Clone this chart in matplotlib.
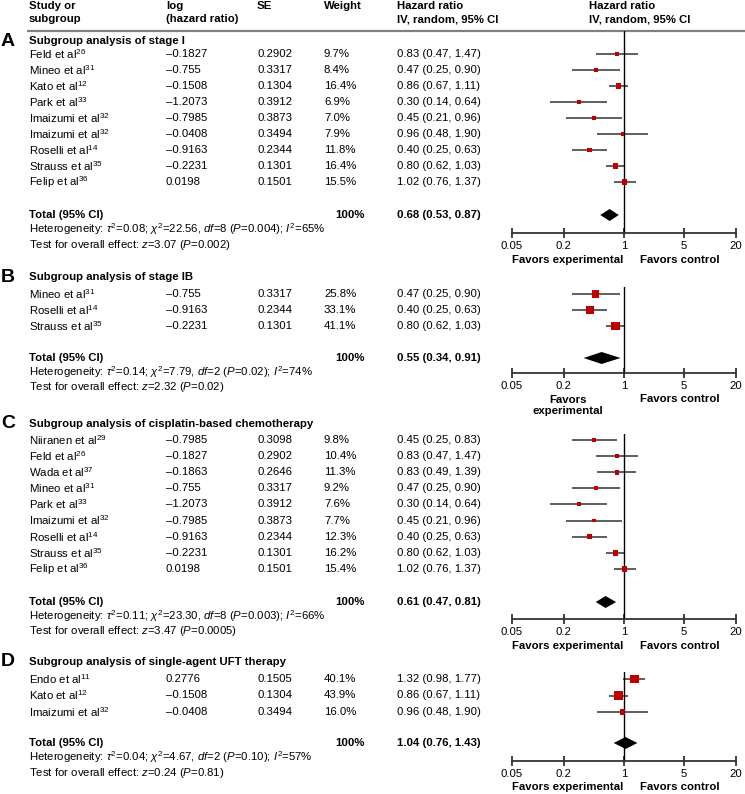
import numpy as np
import matplotlib
matplotlib.use('Agg')
import matplotlib.pyplot as plt
from matplotlib.ticker import NullLocator

plt.rcParams['font.family'] = ['Liberation Sans', 'DejaVu Sans']
plt.rcParams['mathtext.fontset'] = 'custom'
plt.rcParams['mathtext.rm'] = 'Liberation Sans'
plt.rcParams['mathtext.it'] = 'Liberation Sans:italic'
plt.rcParams['mathtext.bf'] = 'Liberation Sans:bold'

# ---- data ----
a_title = 'Subgroup analysis of stage I'
a_names = ['Feld', 'Mineo', 'Kato', 'Park', 'Imaizumi', 'Imaizumi', 'Roselli', 'Strauss', 'Felip']
a_refs = ['26', '31', '12', '33', '32', '32', '14', '35', '36']
a_loghr = [-0.1827, -0.755, -0.1508, -1.2073, -0.7985, -0.0408, -0.9163, -0.2231, 0.0198]
a_se = [0.2902, 0.3317, 0.1304, 0.3912, 0.3873, 0.3494, 0.2344, 0.1301, 0.1501]
a_weight = [9.7, 8.4, 16.4, 6.9, 7.0, 7.9, 11.8, 16.4, 15.5]
a_hr = [0.83, 0.47, 0.86, 0.30, 0.45, 0.96, 0.40, 0.80, 1.02]
a_lo = [0.47, 0.25, 0.67, 0.14, 0.21, 0.48, 0.25, 0.62, 0.76]
a_hi = [1.47, 0.90, 1.11, 0.64, 0.96, 1.90, 0.63, 1.03, 1.37]
a_total = [0.68, 0.53, 0.87]
a_het = ['0.08', '22.56', '8', '0.004', '65']
a_test = ['3.07', '0.002']

b_title = 'Subgroup analysis of stage IB'
b_names = ['Mineo', 'Roselli', 'Strauss']
b_refs = ['31', '14', '35']
b_loghr = [-0.755, -0.9163, -0.2231]
b_se = [0.3317, 0.2344, 0.1301]
b_weight = [25.8, 33.1, 41.1]
b_hr = [0.47, 0.40, 0.80]
b_lo = [0.25, 0.25, 0.62]
b_hi = [0.90, 0.63, 1.03]
b_total = [0.55, 0.34, 0.91]
b_het = ['0.14', '7.79', '2', '0.02', '74']
b_test = ['2.32', '0.02']

c_title = 'Subgroup analysis of cisplatin-based chemotherapy'
c_names = ['Niiranen', 'Feld', 'Wada', 'Mineo', 'Park', 'Imaizumi', 'Roselli', 'Strauss', 'Felip']
c_refs = ['29', '26', '37', '31', '33', '32', '14', '35', '36']
c_loghr = [-0.7985, -0.1827, -0.1863, -0.755, -1.2073, -0.7985, -0.9163, -0.2231, 0.0198]
c_se = [0.3098, 0.2902, 0.2646, 0.3317, 0.3912, 0.3873, 0.2344, 0.1301, 0.1501]
c_weight = [9.8, 10.4, 11.3, 9.2, 7.6, 7.7, 12.3, 16.2, 15.4]
c_hr = [0.45, 0.83, 0.83, 0.47, 0.30, 0.45, 0.40, 0.80, 1.02]
c_lo = [0.25, 0.47, 0.49, 0.25, 0.14, 0.21, 0.25, 0.62, 0.76]
c_hi = [0.83, 1.47, 1.39, 0.90, 0.64, 0.96, 0.63, 1.03, 1.37]
c_total = [0.61, 0.47, 0.81]
c_het = ['0.11', '23.30', '8', '0.003', '66']
c_test = ['3.47', '0.0005']

d_title = 'Subgroup analysis of single-agent UFT therapy'
d_names = ['Endo', 'Kato', 'Imaizumi']
d_refs = ['11', '12', '32']
d_loghr = [0.2776, -0.1508, -0.0408]
d_se = [0.1505, 0.1304, 0.3494]
d_weight = [40.1, 43.9, 16.0]
d_hr = [1.32, 0.86, 0.96]
d_lo = [0.98, 0.67, 0.48]
d_hi = [1.77, 1.11, 1.90]
d_total = [1.04, 0.76, 1.43]
d_het = ['0.04', '4.67', '2', '0.10', '57']
d_test = ['0.24', '0.81']

ticks = [0.05, 0.2, 1, 5, 20]
tick_labels = ['0.05', '0.2', '1', '5', '20']

W, H = 745, 794
FS = 8.2
fig = plt.figure(figsize=(W / 100, H / 100), dpi=100)
bg = fig.add_axes([0, 0, 1, 1])
bg.set_xlim(0, W)
bg.set_ylim(H, 0)
bg.axis('off')

X_NAME, X_LOG, X_SE, X_W, X_HR, X_HR2 = 29, 166, 257, 324, 397, 589
X_PLOT0, X_PLOT1 = 512, 736

# header
for x, l1, l2 in [(X_NAME, 'Study or', 'subgroup'), (X_LOG, 'log', '(hazard ratio)'),
                  (X_SE, 'SE', ''), (X_W, 'Weight', ''),
                  (X_HR, 'Hazard ratio', 'IV, random, 95% CI'),
                  (X_HR2, 'Hazard ratio', 'IV, random, 95% CI')]:
    bg.text(x, 6, l1, fontsize=FS, fontweight='bold', va='center')
    if l2:
        bg.text(x, 19, l2, fontsize=FS, fontweight='bold', va='center')
bg.plot([27, W], [31, 31], color='#808080', lw=1.6, solid_capstyle='butt')


def dash(v):
    return str(v).replace('-', '\u2013')


def panel(letter, title, names, refs, loghr, se, wt, hr, lo, hi, tot, het, test,
          title_y, row0, dy, total_y, top_y, axis_y, fav_y, two_line=False):
    rows = row0 + dy * np.arange(len(names))
    bg.text(1, title_y, letter, fontsize=14, fontweight='bold', va='center')
    bg.text(X_NAME, title_y, title, fontsize=FS, fontweight='bold', va='center')
    for i, y in enumerate(rows):
        bg.text(X_NAME, y, names[i] + ' et al$^{' + refs[i] + '}$', fontsize=FS, va='center')
        bg.text(X_LOG, y, dash(loghr[i]), fontsize=FS, va='center')
        bg.text(X_SE, y, '{:.4f}'.format(se[i]), fontsize=FS, va='center')
        bg.text(X_W, y, '{:.1f}%'.format(wt[i]), fontsize=FS, va='center')
        bg.text(X_HR, y, '{:.2f} ({:.2f}, {:.2f})'.format(hr[i], lo[i], hi[i]), fontsize=FS, va='center')
    bg.text(X_NAME, total_y, 'Total (95% CI)', fontsize=FS, fontweight='bold', va='center')
    bg.text(X_W + 11, total_y, '100%', fontsize=FS, fontweight='bold', va='center')
    bg.text(X_HR, total_y, '{:.2f} ({:.2f}, {:.2f})'.format(*tot), fontsize=FS,
            fontweight='bold', va='center')
    bg.text(X_NAME, total_y + 14.5,
            'Heterogeneity: $\\tau^2$=%s; $\\chi^2$=%s, $df$=%s ($P$=%s); $I^2$=%s%%' % tuple(het),
            fontsize=FS, va='center')
    bg.text(X_NAME, total_y + 29.5,
            'Test for overall effect: $z$=%s ($P$=%s)' % tuple(test), fontsize=FS, va='center')

    ax = fig.add_axes([X_PLOT0 / W, 1 - axis_y / H, (X_PLOT1 - X_PLOT0) / W, (axis_y - top_y) / H])
    ax.patch.set_alpha(0)
    ax.set_xscale('log')
    ax.set_xlim(0.05, 20)
    ax.set_ylim(axis_y, top_y)
    ax.hlines(rows, lo, hi, color='#333333', lw=1.1)
    ax.scatter(hr, rows, marker='s', s=(1.4 * 0.72) ** 2 * np.array(wt),
               color='#c00000', linewidths=0, zorder=3)
    ax.fill([tot[1], tot[0], tot[2], tot[0]],
            [total_y, total_y - 6, total_y, total_y + 6], color='black', lw=0)
    ax.axvline(1, color='black', lw=1)
    for s in ['top', 'left', 'right']:
        ax.spines[s].set_visible(False)
    ax.spines['bottom'].set_color('#333333')
    ax.spines['bottom'].set_linewidth(1.3)
    ax.set_xticks(ticks)
    ax.set_xticklabels(tick_labels)
    ax.xaxis.set_minor_locator(NullLocator())
    ax.tick_params(axis='x', direction='inout', length=7, width=1.3, color='#333333',
                   labelsize=FS, pad=2.5)
    ax.set_yticks([])
    off = -(fav_y - axis_y) * 0.72
    left_txt = 'Favors\nexperimental' if two_line else 'Favors experimental'
    ax.annotate(left_txt, xy=(np.sqrt(0.05 * 1), 0), xycoords=('data', 'axes fraction'),
                xytext=(0, off - (4.7 if two_line else 0)), textcoords='offset points',
                ha='center', va='center', fontsize=FS, fontweight='bold', linespacing=1.1)
    ax.annotate('Favors control', xy=(np.sqrt(20 * 1), 0), xycoords=('data', 'axes fraction'),
                xytext=(0, off), textcoords='offset points',
                ha='center', va='center', fontsize=FS, fontweight='bold')


panel('A', a_title, a_names, a_refs, a_loghr, a_se, a_weight, a_hr, a_lo, a_hi, a_total,
      a_het, a_test, 41, 54, 16.0, 215, 31, 232.5, 260)
panel('B', b_title, b_names, b_refs, b_loghr, b_se, b_weight, b_hr, b_lo, b_hi, b_total,
      b_het, b_test, 277, 294, 16.0, 358, 287, 373, 399, two_line=True)
panel('C', c_title, c_names, c_refs, c_loghr, c_se, c_weight, c_hr, c_lo, c_hi, c_total,
      c_het, c_test, 424, 440, 16.1, 602, 434, 619, 646)
panel('D', d_title, d_names, d_refs, d_loghr, d_se, d_weight, d_hr, d_lo, d_hi, d_total,
      d_het, d_test, 662, 679, 16.5, 743, 672, 761, 787)

fig.savefig('out.png', dpi=100)
